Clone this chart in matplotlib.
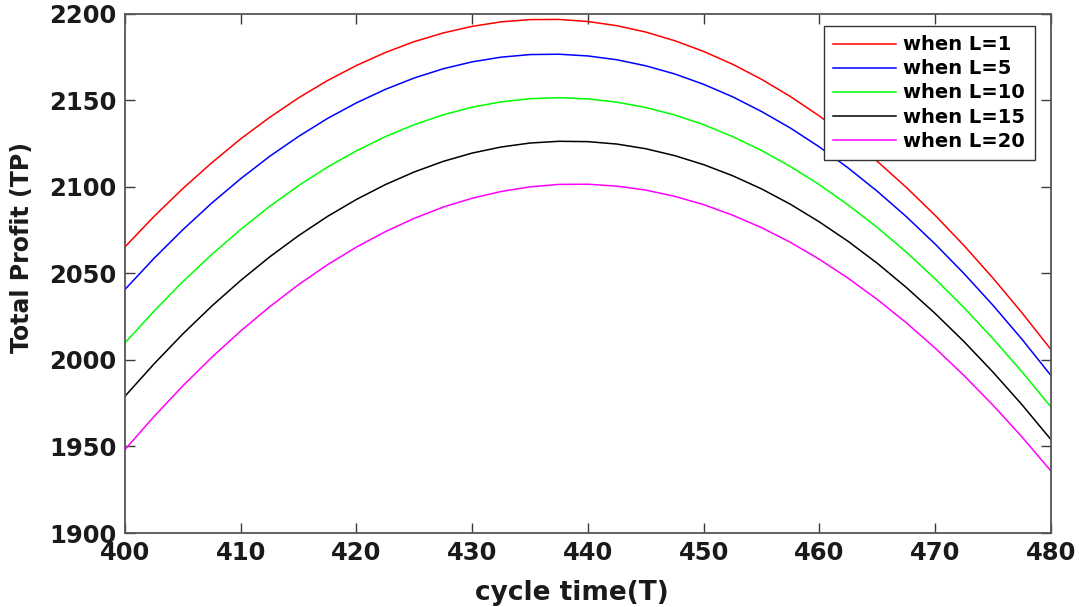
import matplotlib
matplotlib.use("Agg")
import matplotlib.pyplot as plt

# cycle time T
cycle_time = [400, 402.5, 405, 407.5, 410, 412.5, 415, 417.5, 420, 422.5, 425,
              427.5, 430, 432.5, 435, 437.5, 440, 442.5, 445, 447.5, 450,
              452.5, 455, 457.5, 460, 462.5, 465, 467.5, 470, 472.5, 475,
              477.5, 480]

# total profit for each lead time L
tp_L1 = [2065.3, 2082.8, 2099.0, 2113.9, 2127.7, 2140.1, 2151.4, 2161.4, 2170.1,
         2177.6, 2183.9, 2188.9, 2192.7, 2195.3, 2196.6, 2196.7, 2195.5, 2193.1,
         2189.4, 2184.4, 2178.2, 2170.8, 2162.1, 2152.1, 2140.9, 2128.4, 2114.7,
         2099.7, 2083.5, 2066.0, 2047.2, 2027.2, 2006.0]
tp_L5 = [2040.7, 2058.6, 2075.2, 2090.6, 2104.7, 2117.6, 2129.1, 2139.5, 2148.5,
         2156.3, 2162.9, 2168.2, 2172.2, 2174.9, 2176.4, 2176.6, 2175.6, 2173.4,
         2169.9, 2165.2, 2159.2, 2152.0, 2143.5, 2133.9, 2123.0, 2110.8, 2097.4,
         2082.8, 2066.9, 2049.8, 2031.5, 2011.9, 1991.0]
tp_L10 = [2009.8, 2028.1, 2045.2, 2060.9, 2075.4, 2088.7, 2100.7, 2111.4, 2120.8,
          2129.0, 2135.9, 2141.6, 2146.0, 2149.1, 2150.9, 2151.5, 2150.8, 2148.9,
          2145.8, 2141.5, 2135.9, 2129.0, 2121.0, 2111.7, 2101.2, 2089.4, 2076.5,
          2062.3, 2046.8, 2030.1, 2012.2, 1993.1, 1972.8]
tp_L15 = [1979.0, 1997.6, 2015.0, 2031.1, 2045.9, 2059.5, 2071.8, 2082.9, 2092.7,
          2101.3, 2108.6, 2114.7, 2119.5, 2123.0, 2125.3, 2126.3, 2126.1, 2124.7,
          2122.0, 2118.0, 2112.8, 2106.4, 2098.8, 2089.9, 2079.7, 2068.4, 2055.8,
          2041.9, 2026.8, 2010.5, 1992.9, 1974.1, 1954.0]
tp_L20 = [1948.2, 1967.2, 1985.0, 2001.5, 2016.7, 2030.7, 2043.5, 2055.0, 2065.2,
          2074.1, 2081.8, 2088.3, 2093.4, 2097.3, 2100.0, 2101.4, 2101.5, 2100.4,
          2098.1, 2094.5, 2089.7, 2083.6, 2076.4, 2067.9, 2058.1, 2047.1, 2034.9,
          2021.5, 2006.8, 1990.9, 1973.8, 1955.5, 1935.8]

series_labels = ["when L=1", "when L=5", "when L=10", "when L=15", "when L=20"]
series_colors = ["#ff0000", "#0000ff", "#00ff00", "#000000", "#ff00ff"]

x_ticks = [400, 410, 420, 430, 440, 450, 460, 470, 480]
y_ticks = [1900, 1950, 2000, 2050, 2100, 2150, 2200]

fig = plt.figure(figsize=(10.79, 6.07), dpi=100)
ax = fig.add_axes([0.1158, 0.1219, 0.8582, 0.8555])

for values, label, color in zip([tp_L1, tp_L5, tp_L10, tp_L15, tp_L20],
                                series_labels, series_colors):
    ax.plot(cycle_time, values, color=color, linewidth=1.1, label=label)

ax.set_xlim(400, 480)
ax.set_ylim(1900, 2200)
ax.set_xticks(x_ticks)
ax.set_yticks(y_ticks)

axis_gray = "#3a3a3a"
for spine in ax.spines.values():
    spine.set_color("#555555")
    spine.set_linewidth(1.3)
ax.tick_params(direction="in", length=7, width=1.0, color=axis_gray,
               top=True, right=True, pad=6)
for lbl in ax.get_xticklabels() + ax.get_yticklabels():
    lbl.set_fontfamily("DejaVu Sans")
    lbl.set_fontweight("bold")
    lbl.set_fontsize(17.5)
    lbl.set_color("#1a1a1a")

ax.set_xlabel("cycle time(T)", fontsize=19, fontweight="bold",
              family="DejaVu Sans", color="#1a1a1a", va="center")
ax.xaxis.set_label_coords(0.483, -0.1155)
ax.set_ylabel("Total Profit (TP)", fontsize=17, fontweight="bold",
              family="DejaVu Sans", color="#1a1a1a", va="center")
ax.yaxis.set_label_coords(-0.111, 0.55)

leg = ax.legend(loc="upper right", bbox_to_anchor=(0.983, 0.977),
                borderaxespad=0, fancybox=False, framealpha=1,
                edgecolor="#333333", handlelength=3.25, handletextpad=0.36,
                labelspacing=0.26, borderpad=0.5,
                prop={"family": "DejaVu Sans", "weight": "bold", "size": 14})
leg.get_frame().set_linewidth(1.0)

fig.savefig("out.png", dpi=100)
